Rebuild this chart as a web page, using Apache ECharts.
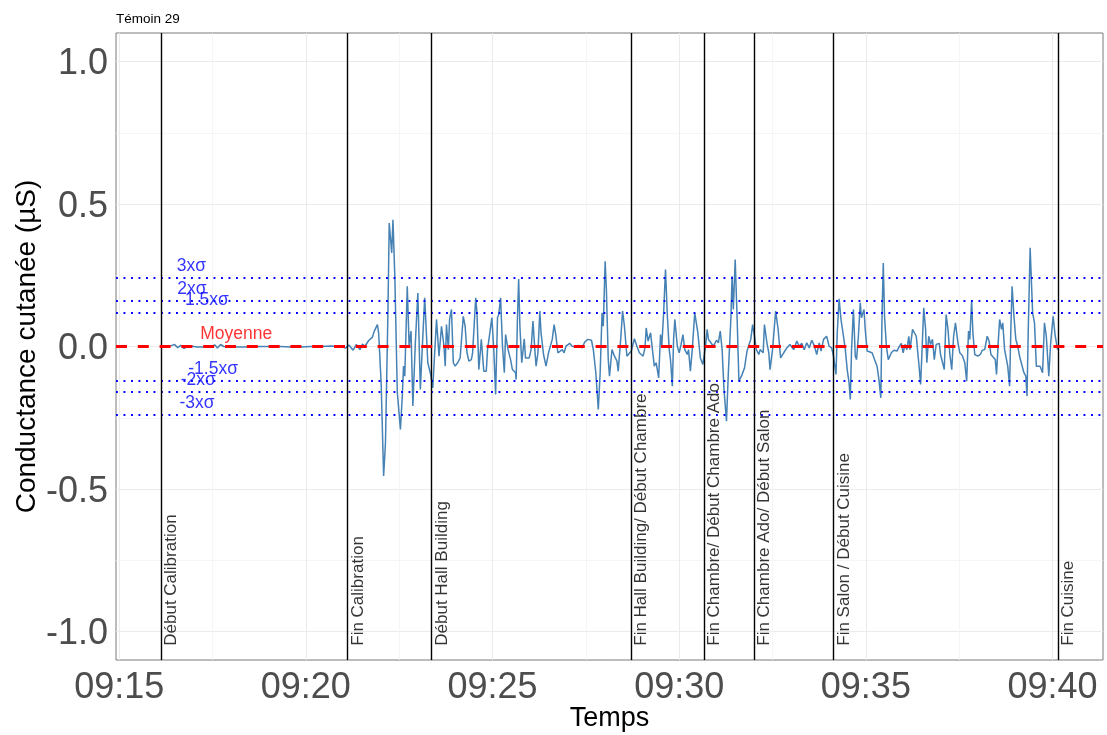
<!DOCTYPE html>
<html>
<head>
<meta charset="utf-8">
<script src="https://cdn.jsdelivr.net/npm/echarts@6/dist/echarts.min.js"></script>
<style>
  html, body { margin: 0; background: #fff; }
  #chart { width: 1107px; height: 735px; }
</style>
</head>
<body>
<div id="chart"></div>
<script>
const chartTitle = 'Témoin 29';
const xTitle = 'Temps';
const yTitle = 'Conductance cutanée (µS)';

// recording start, samples are [seconds since start, conductance]
const startClock = '09:16:07';
const samples = [
  [0, 0], [10, -0.002], [18, 0.004], [22, 0.007], [27, -0.004], [32, 0.004], [37, -0.007], [42, 0],
  [48, 0.002], [58, -0.002], [69, -0.002], [80, 0], [87, 0.005], [91, -0.005], [96, 0.007], [101, 0],
  [112, -0.002], [128, -0.002], [144, -0.002], [160, 0], [176, 0], [192, 0], [209, -0.002], [225, -0.002],
  [241, 0], [257, 0], [273, 0.002], [289, 0], [297, -0.005], [302, 0.005], [305, 0.004], [309, -0.013],
  [314, 0.007], [320, -0.011], [324, 0.009], [328, 0.001], [334, 0.021], [340, 0.033], [343, 0.054], [348, 0.077],
  [350, 0.048], [354, -0.127], [358, -0.454], [361, -0.336], [365, 0.130], [367, 0.433], [371, 0.328], [373, 0.445],
  [376, 0.246], [380, -0.162], [385, -0.291], [388, -0.174], [390, -0.069], [392, -0.104], [396, 0.211], [399, 0.001],
  [402, 0.054], [405, -0.209], [409, 0.013], [413, 0.188], [417, -0.151], [420, -0.011], [424, 0.171], [429, -0.057],
  [433, -0.092], [437, -0.145], [443, 0.095], [447, -0.034], [451, 0.071], [455, 0.001], [457, -0.069], [459, 0.077],
  [462, -0.011], [464, 0.095], [467, 0.130], [470, -0.057], [473, -0.069], [477, -0.057], [481, -0.040], [486, 0.106],
  [489, 0.071], [492, -0.022], [495, -0.051], [499, -0.046], [501, -0.022], [506, 0.171], [508, 0.118], [511, -0.081],
  [515, 0.025], [519, -0.087], [523, -0.087], [525, -0.011], [528, -0.016], [532, 0.101], [535, -0.011], [538, -0.168],
  [541, 0.101], [543, 0.112], [546, 0.171], [549, 0.001], [552, -0.092], [554, 0.042], [558, -0.011], [562, -0.046],
  [565, -0.081], [570, -0.092], [571, -0.116], [573, 0.095], [575, 0.237], [577, 0.071], [580, -0.057], [584, 0.027],
  [586, -0.040], [589, -0.046], [592, -0.040], [595, -0.011], [598, 0.089], [601, -0.011], [603, -0.069], [606, -0.022],
  [609, 0.124], [611, 0.048], [615, -0.028], [619, -0.069], [623, -0.022], [626, -0.028], [629, 0.025], [632, 0.077],
  [635, 0.036], [638, -0.022], [641, -0.028], [645, -0.011], [648, -0.022], [651, 0.001], [654, -0.005], [657, 0.011],
  [661, 0.001], [666, -0.001], [671, 0.004], [677, -0.005], [681, 0.015], [686, 0.025], [692, 0.022], [695, -0.011],
  [699, -0.092], [703, -0.221], [706, -0.092], [709, 0.118], [711, 0.071], [714, 0.299], [716, 0.200], [719, -0.046],
  [721, -0.104], [725, -0.011], [729, -0.034], [733, -0.051], [735, -0.087], [739, 0.025], [742, 0.124], [745, 0.071],
  [749, -0.034], [752, -0.040], [756, -0.016], [761, 0.027], [765, 0.001], [769, -0.022], [775, -0.034], [778, -0.005],
  [780, 0.065], [783, 0.019], [787, 0.048], [790, -0.011], [793, -0.069], [796, -0.057], [800, -0.110], [803, 0.042],
  [805, 0.001], [808, 0.118], [811, 0.270], [814, 0.106], [817, -0.011], [819, -0.046], [822, -0.139], [824, 0.025],
  [826, 0.095], [830, 0.001], [833, -0.022], [836, 0.007], [839, 0.042], [842, -0.011], [846, -0.028], [848, -0.011],
  [851, -0.087], [854, -0.011], [858, 0.118], [863, 0.048], [867, -0.040], [871, -0.063], [875, -0.005], [878, 0.060],
  [880, 0.025], [884, 0.013], [888, 0.001], [893, 0.022], [896, 0.013], [899, 0.054], [902, -0.011], [905, -0.151],
  [909, -0.262], [912, -0.092], [916, 0.095], [918, 0.246], [920, 0.130], [923, 0.305], [926, 0.106], [929, -0.122],
  [933, -0.104], [938, -0.075], [942, -0.016], [945, -0.022], [948, 0.025], [951, 0.077], [954, 0.036], [957, -0.011],
  [961, -0.028], [963, -0.011], [968, -0.022], [970, 0.077], [974, 0.013], [977, -0.022], [979, -0.081], [983, -0.011],
  [988, 0.124], [992, 0.060], [996, -0.040], [1001, -0.022], [1006, -0.005], [1011, 0.007], [1017, -0.011], [1022, 0.019],
  [1026, 0.001], [1030, 0.011], [1034, -0.011], [1038, 0.013], [1042, -0.005], [1046, 0.022], [1050, 0.004], [1054, -0.028],
  [1058, 0.013], [1061, -0.016], [1065, 0.025], [1070, 0.036], [1074, 0.001], [1078, -0.005], [1081, -0.034], [1085, -0.098],
  [1087, 0.048], [1090, 0.167], [1093, 0.095], [1097, 0.036], [1100, -0.011], [1103, -0.081], [1106, -0.127], [1108, -0.186],
  [1110, -0.011], [1113, 0.130], [1116, -0.034], [1118, -0.046], [1121, 0.036], [1124, 0.153], [1126, 0.101], [1130, 0.130],
  [1132, 0.060], [1135, -0.016], [1138, -0.011], [1143, -0.022], [1147, -0.046], [1151, -0.069], [1154, -0.116], [1157, -0.180],
  [1159, 0.106], [1161, 0.293], [1163, 0.106], [1166, 0.001], [1169, -0.046], [1174, -0.022], [1178, -0.013], [1183, -0.016],
  [1187, 0.001], [1190, 0.011], [1193, -0.022], [1196, 0.007], [1199, -0.011], [1202, 0.036], [1204, -0.011], [1208, 0.060],
  [1211, 0.053], [1214, 0.036], [1218, -0.057], [1221, -0.133], [1224, 0.025], [1226, 0.136], [1229, 0.060], [1231, -0.057],
  [1234, 0.036], [1237, 0.007], [1240, 0.025], [1243, -0.046], [1246, 0.007], [1251, 0.011], [1253, -0.028], [1256, -0.034],
  [1259, -0.081], [1262, 0.112], [1265, 0.060], [1268, -0.028], [1271, -0.081], [1274, 0.036], [1277, 0.083], [1281, 0.013],
  [1284, -0.022], [1288, -0.032], [1292, -0.057], [1295, -0.122], [1298, 0.054], [1300, 0.025], [1303, 0.162], [1305, 0.048],
  [1308, -0.028], [1313, -0.034], [1317, -0.028], [1320, -0.013], [1324, -0.011], [1328, 0.036], [1331, 0.019], [1334, -0.028],
  [1337, -0.022], [1341, -0.046], [1343, -0.098], [1346, 0.025], [1348, 0.095], [1351, 0.060], [1353, 0.083], [1356, -0.011],
  [1359, -0.046], [1361, -0.069], [1364, -0.139], [1366, 0.060], [1368, 0.211], [1371, 0.106], [1374, 0.025], [1377, 0.001],
  [1380, -0.034], [1383, -0.028], [1387, -0.092], [1390, -0.104], [1392, -0.174], [1394, 0.060], [1397, 0.346], [1401, 0.118],
  [1404, 0.083], [1407, -0.069], [1410, -0.063], [1413, -0.069], [1417, -0.092], [1420, 0.083], [1423, 0.036], [1427, -0.104],
  [1430, 0.013], [1434, 0.106], [1437, 0.042], [1439, 0.042], [1441, -0.011]
];

const eventNames = [
  'Début Calibration', 'Fin Calibration', 'Début Hall Building', 'Fin Hall Building/ Début Chambre',
  'Fin Chambre/ Début Chambre Ado', 'Fin Chambre Ado/ Début Salon', 'Fin Salon / Début Cuisine', 'Fin Cuisine'
];
const eventClocks = ['09:16:07', '09:21:07', '09:23:22', '09:28:43', '09:30:40', '09:32:00', '09:34:08', '09:40:09'];

const meanValue = 0;
const sigma = 0.08;
const sigmaFactors = [3, 2, 1.5, -1.5, -2, -3];
const sigmaLabels = ['3xσ', '2xσ', '1.5xσ', '-1.5xσ', '-2xσ', '-3xσ'];
const sigmaLabelClocks = ['09:16:56', '09:16:57', '09:17:21', '09:17:31', '09:17:07', '09:17:05'];
const meanLabel = 'Moyenne';
const meanLabelClock = '09:18:08';

const xBreaks = ['09:15', '09:20', '09:25', '09:30', '09:35', '09:40'];
const xMinorBreaks = ['09:17:30', '09:22:30', '09:27:30', '09:32:30', '09:37:30'];
const yBreaks = [-1, -0.5, 0, 0.5, 1];
const yMinorBreaks = [-0.75, -0.25, 0.25, 0.75];
const yLimits = [-1.1, 1.1];

const FONT = '"Liberation Sans", Arial, Helvetica, sans-serif';

function toSec(clock) {
  const p = clock.split(':').map(Number);
  return p[0] * 3600 + p[1] * 60 + (p[2] || 0);
}
function pad(n) { return String(n).padStart(2, '0'); }
function fmtClock(sec) {
  const s = Math.round(sec);
  return pad(Math.floor(s / 3600)) + ':' + pad(Math.floor((s % 3600) / 60));
}

const t0 = toSec(startClock);
const eventSecs = eventClocks.map(toSec);
// ggplot-like 5% expansion around the events span
const span = eventSecs[eventSecs.length - 1] - eventSecs[0];
const xMin = eventSecs[0] - span * 0.05;
const xMax = eventSecs[eventSecs.length - 1] + span * 0.05;

const chart = echarts.init(document.getElementById('chart'));

const gridLine = { color: '#ebebeb', width: 1.1 };
const gridMinor = { color: '#f3f3f3', width: 0.8 };

chart.setOption({
  animation: false,
  backgroundColor: '#fff',
  textStyle: { fontFamily: FONT },
  title: {
    text: chartTitle,
    left: 116,
    top: 12,
    padding: 0,
    textStyle: { fontFamily: FONT, fontSize: 13.5, fontWeight: 'normal', color: '#000' }
  },
  grid: {
    left: 116, right: 4, top: 33, bottom: 75,
    outerBoundsMode: 'none',
    containLabel: false,
    show: true, borderColor: '#7a7a7a', borderWidth: 1, backgroundColor: 'transparent'
  },
  xAxis: [
    {
      type: 'value',
      min: xMin, max: xMax,
      name: xTitle,
      nameLocation: 'middle',
      nameGap: 45,
      nameMoveOverlap: false,
      nameTextStyle: { fontFamily: FONT, fontSize: 27, color: '#000' },
      axisLine: { show: false },
      axisTick: { show: false, customValues: xBreaks.map(toSec) },
      axisLabel: {
        customValues: xBreaks.map(toSec),
        formatter: v => fmtClock(v),
        fontSize: 36, color: '#4d4d4d', fontFamily: FONT, margin: 10
      },
      splitLine: { show: true, lineStyle: gridLine }
    },
    {
      type: 'value',
      min: xMin, max: xMax,
      position: 'bottom',
      axisLine: { show: false },
      axisTick: { show: false, customValues: xMinorBreaks.map(toSec) },
      axisLabel: { show: false },
      splitLine: { show: true, lineStyle: gridMinor }
    }
  ],
  yAxis: [
    {
      type: 'value',
      min: yLimits[0], max: yLimits[1],
      name: yTitle,
      nameLocation: 'middle',
      nameRotate: 90,
      nameGap: 75,
      nameMoveOverlap: false,
      nameTextStyle: { fontFamily: FONT, fontSize: 28, color: '#000' },
      axisLine: { show: false },
      axisTick: { show: false, customValues: yBreaks },
      axisLabel: {
        customValues: yBreaks,
        formatter: v => '{v|' + v.toFixed(1) + '}',
        margin: 8,
        rich: {
          v: { fontSize: 36, color: '#4d4d4d', fontFamily: FONT, padding: [6, 0, 0, 0] }
        }
      },
      splitLine: { show: true, lineStyle: gridLine }
    },
    {
      type: 'value',
      min: yLimits[0], max: yLimits[1],
      position: 'left',
      axisLine: { show: false },
      axisTick: { show: false, customValues: yMinorBreaks },
      axisLabel: { show: false },
      splitLine: { show: true, lineStyle: gridMinor }
    }
  ],
  series: [
    {
      name: 'signal',
      type: 'line',
      z: 2,
      showSymbol: false,
      symbol: 'none',
      silent: true,
      lineStyle: { color: '#4682b4', width: 1.5 },
      data: samples.map(d => [t0 + d[0], d[1]])
    },
    {
      name: 'sigma',
      type: 'line',
      z: 3,
      data: [],
      markLine: {
        silent: true,
        symbol: ['none', 'none'],
        label: { show: false },
        lineStyle: { color: '#0000ff', width: 1.8, type: [1.9, 5.6] },
        data: sigmaFactors.map(f => ({ yAxis: meanValue + f * sigma }))
      }
    },
    {
      name: 'events',
      type: 'line',
      z: 3,
      data: [],
      markLine: {
        silent: true,
        symbol: ['none', 'none'],
        label: { show: false },
        lineStyle: { color: '#000', width: 1.4, type: 'solid' },
        data: eventSecs.map(s => ({ xAxis: s }))
      }
    },
    {
      name: 'mean',
      type: 'line',
      z: 4,
      data: [],
      markLine: {
        silent: true,
        symbol: ['none', 'none'],
        label: { show: false },
        lineStyle: { color: '#ff0000', width: 3, type: [11, 10.8] },
        data: [{ yAxis: meanValue }]
      }
    },
    {
      name: 'eventLabels',
      type: 'scatter',
      z: 5,
      silent: true,
      symbolSize: 0,
      label: {
        show: true,
        position: [2, 0],
        rotate: 90,
        align: 'left',
        verticalAlign: 'top',
        fontSize: 17,
        fontFamily: FONT,
        color: '#000',
        formatter: p => eventNames[p.dataIndex]
      },
      data: eventSecs.map(s => [s, -1.05])
    },
    {
      name: 'levelLabels',
      type: 'scatter',
      z: 5,
      silent: true,
      symbolSize: 0,
      label: {
        show: true,
        position: 'inside',
        offset: [0, -12],
        fontSize: 17.5,
        fontFamily: FONT,
        formatter: p => p.data.text
      },
      data: sigmaFactors.map((f, i) => ({
        value: [toSec(sigmaLabelClocks[i]), meanValue + f * sigma],
        text: sigmaLabels[i],
        label: { color: '#0000ff' }
      })).concat([{
        value: [toSec(meanLabelClock), meanValue],
        text: meanLabel,
        label: { color: '#ff0000' }
      }])
    }
  ]
});
</script>
</body>
</html>
